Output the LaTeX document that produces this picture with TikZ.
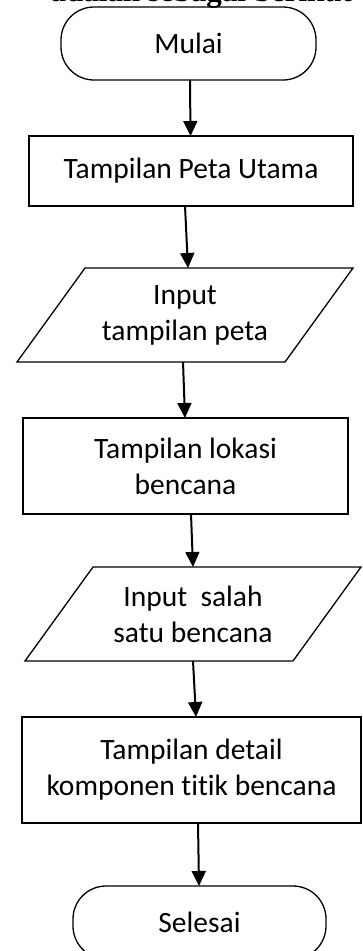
\documentclass[tikz,border=0pt]{standalone}
\usepackage{fontspec}
\setmainfont{Carlito}[Ligatures={NoCommon}]
\newfontfamily\docserif{Liberation Serif}
\usetikzlibrary{arrows.meta}
\begin{document}
\begin{tikzpicture}[x=1pt,y=-1pt,
  every node/.style={inner sep=0pt, outer sep=0pt, align=center, font=\fontsize{29.5}{36}\selectfont},
  termbox/.style={draw, line width=1.3pt, rectangle, rounded corners=33pt},
  procbox/.style={draw, line width=1.3pt, rectangle},
  iobox/.style={rectangle, minimum width=268pt, minimum height=94pt},
  ioline/.style={line width=1.3pt, line join=miter},
  flowarrow/.style={line width=2pt, -{Triangle[width=14pt,length=15pt]}}]
\useasboundingbox (0,0) rectangle (362,951);
\clip (0,0) rectangle (362,951);
\fill[white] (0,0) rectangle (362,951);
\node[anchor=base east, font=\docserif\bfseries\fontsize{31}{36}\selectfont] (toptext) at (352,1) {adalah sebagai berikut};
\node[termbox, minimum width=255pt, minimum height=73pt] (mulai) at (188.5,43.5) {Mulai};
\node[procbox, minimum width=324pt, minimum height=70pt] (box1) at (191,171) {Tampilan Peta Utama};
\node[iobox] (para1) at (185,315) {Input\\tampilan peta};
\draw[ioline] ([xshift=34pt]para1.north west) -- ([xshift=34pt]para1.north east)
  -- ([xshift=-34pt]para1.south east) -- ([xshift=-34pt]para1.south west) -- cycle;
\node[procbox, minimum width=325pt, minimum height=96pt] (box2) at (185.5,466) {Tampilan lokasi\\bencana};
\node[iobox] (para2) at (193,614) {Input\ \ salah\\satu bencana};
\draw[ioline] ([xshift=34pt]para2.north west) -- ([xshift=34pt]para2.north east)
  -- ([xshift=-34pt]para2.south east) -- ([xshift=-34pt]para2.south west) -- cycle;
\node[procbox, minimum width=339pt, minimum height=106pt] (box3) at (191.5,770) {Tampilan detail\\komponen titik bencana};
\node[termbox, minimum width=253pt, minimum height=73pt] (selesai) at (199.5,922.5) {Selesai};
\draw[flowarrow] ([xshift=1.5pt]mulai.south) -- ([xshift=-0.5pt]box1.north);
\draw[flowarrow] ([xshift=-6pt]box1.south) -- ([xshift=3pt]para1.north);
\draw[flowarrow] ([xshift=-2pt]para1.south) -- ([xshift=-0.5pt]box2.north);
\draw[flowarrow] ([xshift=5.5pt]box2.south) -- (para2.north);
\draw[flowarrow] (para2.south) -- ([xshift=4.5pt]box3.north);
\draw[flowarrow] ([xshift=6.5pt]box3.south) -- ([xshift=-0.5pt]selesai.north);
\end{tikzpicture}
\end{document}
